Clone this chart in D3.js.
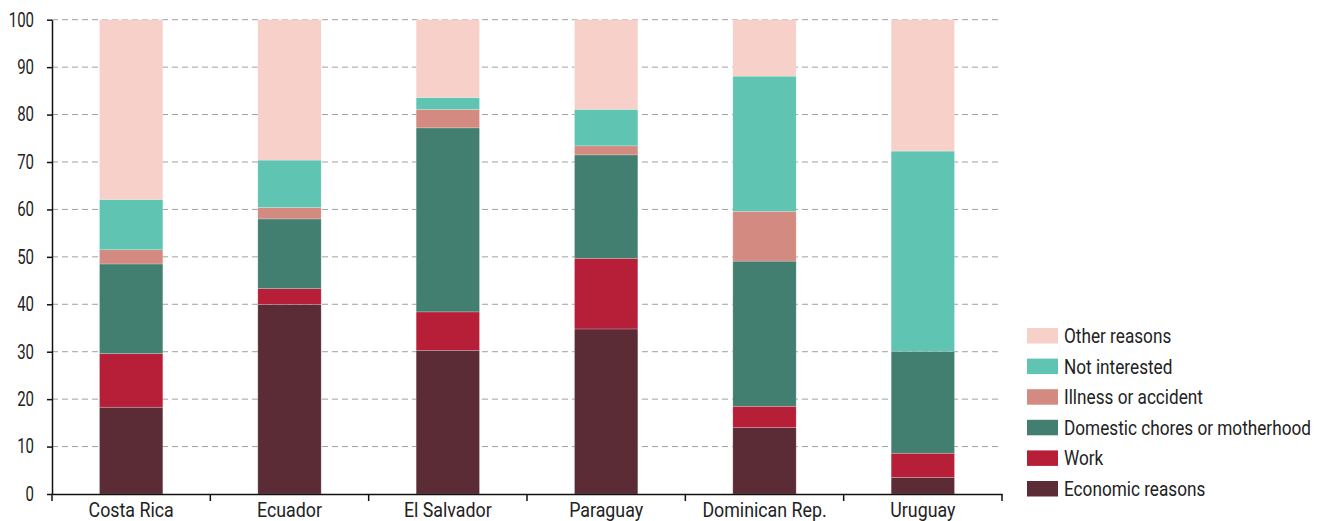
<!DOCTYPE html>
<html><head><meta charset="utf-8">
<script src="https://cdn.jsdelivr.net/npm/d3@7"></script>
<style>
body{margin:0;background:#fff;}
text{font-family:"Roboto","Liberation Sans",sans-serif;fill:#222;}
</style></head>
<body><svg id="c" width="1322" height="521"></svg>
<script>
const categories = ["Costa Rica","Ecuador","El Salvador","Paraguay","Dominican Rep.","Uruguay"];
const seriesNames = ["Economic reasons","Work","Domestic chores or motherhood","Illness or accident","Not interested","Other reasons"];
const economic = [18.3, 40.0, 30.3, 34.8, 14.0, 3.5];
const work     = [11.3,  3.3,  8.1, 14.9,  4.5, 5.1];
const domestic = [18.9, 14.7, 38.8, 21.8, 30.6, 21.5];
const illness  = [ 3.0,  2.4,  3.9,  1.9, 10.5, 0.0];
const notInt   = [10.6, 10.0,  2.5,  7.7, 28.5, 42.2];
const other    = [37.9, 29.6, 16.4, 18.9, 11.9, 27.7];
const colors = ["#5c2c36","#b71f38","#437f70","#d38a80","#5fc4b1","#f6d0c9"];
const yTicks = [0,10,20,30,40,50,60,70,80,90,100];

const seriesVals = [economic, work, domestic, illness, notInt, other];
const rows = categories.map((c,i)=>{
  const r = {cat:c};
  seriesNames.forEach((s,j)=> r[s] = seriesVals[j][i]);
  return r;
});
const stacked = d3.stack().keys(seriesNames)(rows);

const svg = d3.select("#c");
const L = 52, R = 1002, T = 19.7, B = 494;
const x = d3.scaleBand().domain(categories).range([L,R]).paddingInner(0).paddingOuter(0);
const y = d3.scaleLinear().domain([0,100]).range([B,T]);
const bw = x.bandwidth()*0.4;

// gridlines
svg.append("g").selectAll("line").data(yTicks.filter(d=>d>0)).join("line")
  .attr("x1",L).attr("x2",R).attr("y1",d=>y(d)).attr("y2",d=>y(d))
  .attr("stroke","#a0a0a0").attr("stroke-width",1).attr("stroke-dasharray","6,4");

// bars
svg.append("g").selectAll("g").data(stacked).join("g")
  .attr("fill",(d,i)=>colors[i])
  .selectAll("rect").data(d=>d).join("rect")
  .attr("x",d=>x(d.data.cat)+(x.bandwidth()-bw)/2)
  .attr("width",bw)
  .attr("y",d=>y(d[1]))
  .attr("height",d=>Math.max(0,y(d[0])-y(d[1])))
  .attr("stroke","#fff").attr("stroke-opacity",0.35).attr("stroke-width",0.6);

// y axis
const ya = svg.append("g").attr("transform",`translate(${L},0)`)
  .call(d3.axisLeft(y).tickValues(yTicks).tickSize(5).tickPadding(5).tickSizeOuter(0));
ya.select(".domain").attr("stroke","#111").attr("stroke-width",1.5);
ya.selectAll(".tick line").attr("stroke","#111").attr("stroke-width",1.5);
ya.selectAll(".tick text").attr("font-size",20).attr("fill","#222")
  .attr("font-family","Roboto,sans-serif")
  .attr("x",-24).attr("transform","scale(0.75,1)");

// x axis
const xa = svg.append("g").attr("transform",`translate(0,${B})`)
  .call(d3.axisBottom(x).tickSize(0).tickPadding(9));
xa.select(".domain").attr("stroke","#111").attr("stroke-width",1.5);
xa.selectAll(".tick text").attr("font-size",20).attr("fill","#222")
  .attr("font-family","Roboto,sans-serif")
  .attr("transform","scale(0.89,1)");
// band boundary ticks
const bounds = categories.map(c=>x(c)).concat([R]);
svg.append("g").selectAll("line").data(bounds).join("line")
  .attr("x1",d=>d).attr("x2",d=>d).attr("y1",B).attr("y2",B+7)
  .attr("stroke","#111").attr("stroke-width",1.5);

// legend
const legendOrder = seriesNames.slice().reverse();
const lsx = 0.86;
const lg = svg.append("g").attr("transform","translate(1027,328)");
legendOrder.forEach((s,i)=>{
  const g = lg.append("g").attr("transform",`translate(0,${i*30.6})`);
  g.append("rect").attr("width",31).attr("height",15.5).attr("fill",colors[seriesNames.indexOf(s)]);
  g.append("text").attr("y",15).attr("font-size",20)
    .attr("transform",`scale(${lsx},1)`).attr("x",37/lsx).text(s);
});
</script></body></html>
